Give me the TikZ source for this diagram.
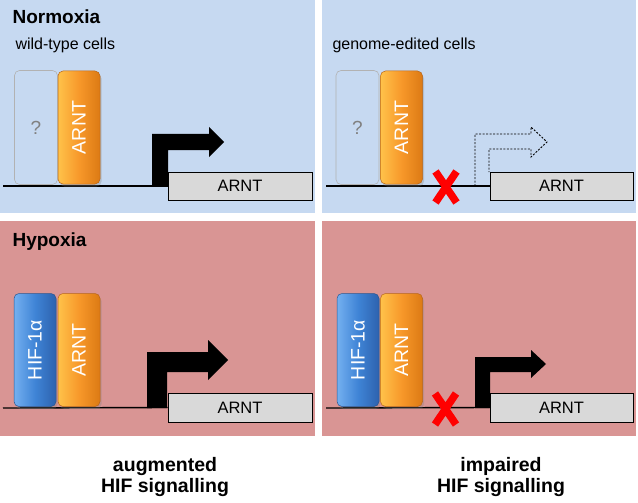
\documentclass[tikz,border=0pt]{standalone}
\usepackage{fontspec}
\setmainfont{Liberation Sans}
\usetikzlibrary{shadows}
\definecolor{bgblue}{HTML}{C6D9F1}
\definecolor{bgpink}{HTML}{D99594}
\definecolor{orL}{HTML}{FFC24A}
\definecolor{orM}{HTML}{F7982A}
\definecolor{orR}{HTML}{DC7A14}
\definecolor{orE}{HTML}{B8661A}
\definecolor{blL}{HTML}{74B0F0}
\definecolor{blM}{HTML}{3F84D6}
\definecolor{blR}{HTML}{2D62AE}
\definecolor{blE}{HTML}{2A5690}
\definecolor{genefill}{HTML}{D9D9D9}
\definecolor{xred}{HTML}{FF0000}
\begin{document}
\begin{tikzpicture}[x=1pt,y=-1pt,
  protbox/.style={rounded corners=5pt, line width=0.5pt, minimum width=42pt,
    minimum height=113pt, inner sep=0pt,
    drop shadow={opacity=0.3, shadow xshift=1.5pt, shadow yshift=-2.5pt}},
  obox/.style={protbox, draw=orE, left color=orL, right color=orR, middle color=orM},
  bbox/.style={protbox, draw=blE, left color=blL, right color=blR, middle color=blM},
  qbox/.style={rounded corners=5pt, draw=black!30, line width=0.6pt,
    minimum width=43pt, minimum height=114pt, inner sep=0pt,
    font=\fontsize{19}{22}\selectfont, text=black!50},
  protlabel/.style={rotate=90, text=white, font=\fontsize{19.5}{22}\selectfont},
  genebox/.style={draw=black, line width=0.8pt, fill=genefill, minimum width=144pt,
    minimum height=28pt, inner sep=0pt, font=\fontsize{16.5}{19}\selectfont},
  dnaline/.style={line width=1.4pt, black},
  titletext/.style={anchor=base west, font=\bfseries\fontsize{19}{22}\selectfont},
  celltext/.style={anchor=base west, font=\fontsize{16}{19}\selectfont},
  captiontext/.style={anchor=base, font=\bfseries\fontsize{19.5}{22}\selectfont},
  promoter/.style={fill=black},
  deadpromoter/.style={draw=black, line width=0.9pt, dash pattern=on 2pt off 1.5pt},
  redx/.pic={\draw[line width=7.5pt, xred] (-10.5,-15.5) -- (10.5,15.5) (10.5,-15.5) -- (-10.5,15.5);}
]
\useasboundingbox (0,0) rectangle (638,503);
% panels
\fill[bgblue] (0,0) rectangle (315,213);
\fill[bgblue] (322,0) rectangle (636,213);
\fill[bgpink] (0,221) rectangle (315,436);
\fill[bgpink] (322,221) rectangle (636,436);

% titles
\node[titletext] (normoxia) at (9,24) {Normoxia};
\node[celltext] (wt) at (12,50) {wild-type cells};
\node[celltext] (ge) at (329,50) {genome-edited cells};
\node[titletext] (hypoxia) at (9,246.5) {Hypoxia};

% ---------- top left ----------
\coordinate (dnaA) at (3,186);
\fill[promoter] (152,186) -- (152,134) -- (209,134) -- (209,127) -- (224,142)
  -- (209,157) -- (209,150) -- (168,150) -- (168,186) -- cycle;
\node[genebox] (geneA) at (240,186) {ARNT};
\draw[dnaline] (dnaA) -- (geneA.west);
\node[qbox] (qA) at (36,127.5) {?};
\node[obox] (arntA) at (79,127.5) {};
\node[protlabel] at (arntA) {ARNT};

% ---------- top right ----------
\coordinate (dnaB) at (326,186);
\node[genebox, minimum width=143pt] (geneB) at (561.5,186) {ARNT};
\draw[dnaline] (dnaB) -- (geneB.west);
\draw[deadpromoter] (475,186) -- (475,134) -- (531,134) -- (531,127) -- (547,142)
  -- (531,157) -- (531,149) -- (489,149) -- (489,172);
\node[qbox] (qB) at (357.5,127.5) {?};
\node[obox] (arntB) at (401.5,127.5) {};
\node[protlabel] at (arntB) {ARNT};
\pic at (446,187) {redx};

% ---------- bottom left ----------
\coordinate (dnaC) at (3,408);
\fill[promoter] (147,408) -- (147,352) -- (208,352) -- (208,340) -- (228,360)
  -- (208,380) -- (208,372) -- (167,372) -- (167,408) -- cycle;
\node[genebox, minimum height=29pt] (geneC) at (240,407.5) {ARNT};
\draw[dnaline] (dnaC) -- (geneC.west);
\node[bbox] (hifC) at (35,350) {};
\node[protlabel] at (hifC) {HIF-1α};
\node[obox] (arntC) at (79,350) {};
\node[protlabel] at (arntC) {ARNT};

% ---------- bottom right ----------
\coordinate (dnaD) at (326,408);
\fill[promoter] (475,408) -- (475,357) -- (531,357) -- (531,350) -- (546,364)
  -- (531,378) -- (531,372) -- (490,372) -- (490,408) -- cycle;
\node[genebox, minimum width=143pt, minimum height=29pt] (geneD) at (561.5,407.5) {ARNT};
\draw[dnaline] (dnaD) -- (geneD.west);
\node[bbox] (hifD) at (358,350) {};
\node[protlabel] at (hifD) {HIF-1α};
\node[obox] (arntD) at (401.5,350) {};
\node[protlabel] at (arntD) {ARNT};
\pic at (445.5,409) {redx};

% captions
\node[captiontext] (capA1) at (165,471) {augmented};
\node[captiontext] (capA2) at (165,492) {HIF signalling};
\node[captiontext] (capB1) at (501,471) {impaired};
\node[captiontext] (capB2) at (501,492) {HIF signalling};
\end{tikzpicture}
\end{document}
